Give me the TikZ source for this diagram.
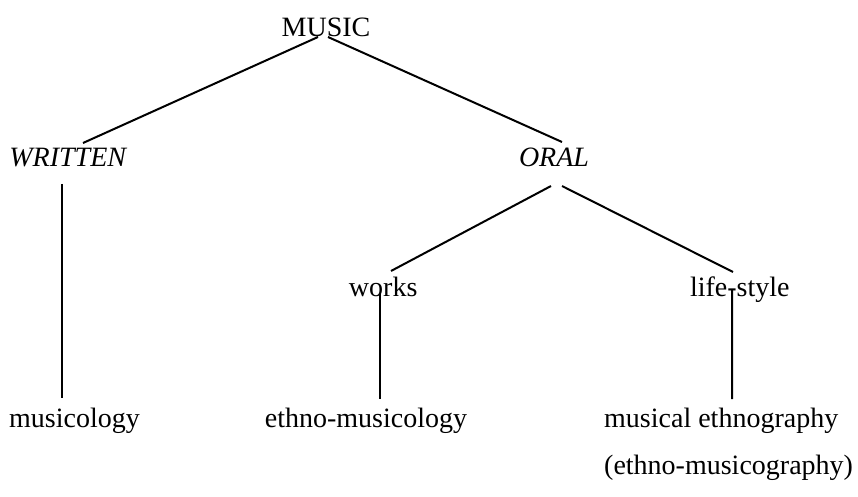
\documentclass[tikz,border=0pt]{standalone}
\usepackage{fontspec}
\setmainfont{Liberation Serif}
\begin{document}
\begin{tikzpicture}[x=1bp,y=-1bp,
  lbl/.style={inner sep=0pt, anchor=base, font=\fontsize{28bp}{34bp}\selectfont},
  lbll/.style={inner sep=0pt, anchor=base west, font=\fontsize{28bp}{34bp}\selectfont},
  conn/.style={line width=2bp, line cap=butt}]
\useasboundingbox (0,0) rectangle (858,497);
% nodes
\node[lbl] (music) at (326,36.5) {MUSIC};
\node[lbl] (written) at (68.4,166.7) {\textit{WRITTEN}};
\node[lbl] (oral) at (554,166.7) {\textit{ORAL}};
\node[lbl] (works) at (383.2,297) {works};
\node[lbl] (life) at (739.8,297) {life-style};
\node[lbl] (musicology) at (74.5,427) {musicology};
\node[lbl] (ethnomus) at (366,427) {ethno-musicology};
\node[lbll] (ethnog) at (604,427) {musical ethnography};
\node[lbll] (ethnogr) at (604,474) {(ethno-musicography)};
% connectors
\draw[conn] ([shift={(-8,0.5)}]music.base) -- ([shift={(14.6,-23.7)}]written.base);
\draw[conn] ([shift={(2,0.5)}]music.base) -- ([shift={(8,-24.7)}]oral.base);
\draw[conn] ([shift={(-6.4,17.3)}]written.base) -- ([shift={(-12.5,-29)}]musicology.base);
\draw[conn] ([shift={(-3,19.3)}]oral.base) -- ([shift={(7.8,-26)}]works.base);
\draw[conn] ([shift={(8,19.3)}]oral.base) -- ([shift={(-6.8,-25)}]life.base);
\draw[conn] ([shift={(-3.2,-4)}]works.base) -- ([shift={(14,-28)}]ethnomus.base);
\draw[conn] ([shift={(-7.8,-7)}]life.base) -- ([shift={(11,-28)}]ethnog.base);
\end{tikzpicture}
\end{document}
